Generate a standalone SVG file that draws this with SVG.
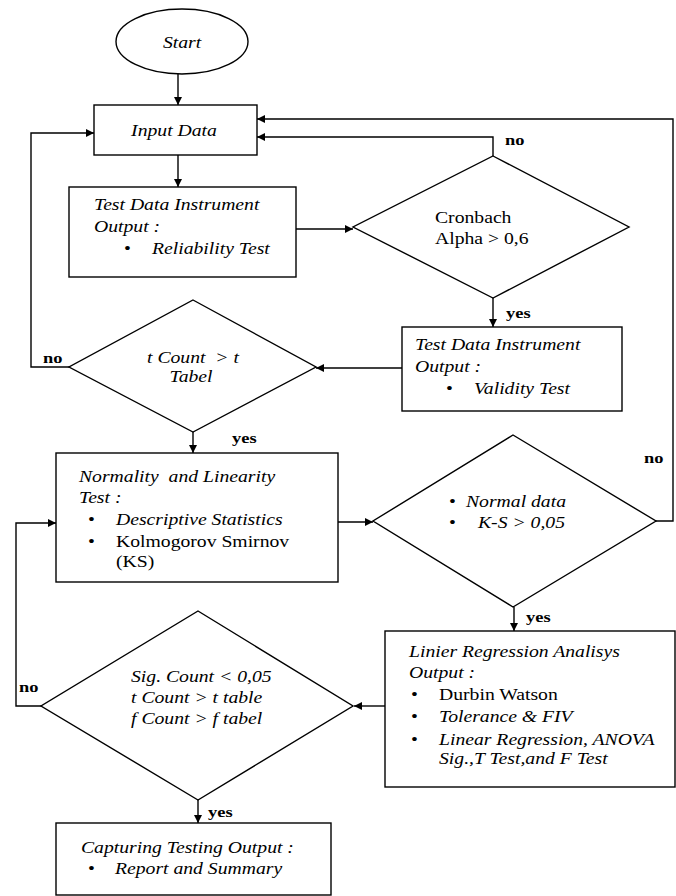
<svg xmlns="http://www.w3.org/2000/svg" width="676" height="896" viewBox="0 0 676 896" font-family="'Liberation Serif', 'DejaVu Serif', serif" font-size="16">
<style>
.s{fill:#fff;stroke:#000;stroke-width:1.4}
.c{fill:none;stroke:#000;stroke-width:1.4}
.i{font-style:italic}
.b{font-weight:bold;font-size:15px}
.m{text-anchor:middle}
</style>
<defs>
<marker id="ah" viewBox="0 0 10 10" refX="10" refY="5" markerWidth="9" markerHeight="8" markerUnits="userSpaceOnUse" orient="auto">
<path d="M0,0 L10,5 L0,10 z" fill="#000"/>
</marker>
</defs>
<rect width="676" height="896" fill="#fff"/>
<g id="connectors">
<path class="c" d="M178,74 V105" marker-end="url(#ah)"/>
<path class="c" d="M178,155 V187" marker-end="url(#ah)"/>
<path class="c" d="M296,229 H353" marker-end="url(#ah)"/>
<path class="c" d="M493,156 V137 H257" marker-end="url(#ah)"/>
<path class="c" d="M493,298 V327" marker-end="url(#ah)"/>
<path class="c" d="M402,368 H316" marker-end="url(#ah)"/>
<path class="c" d="M69,367 H31 V133 H94" marker-end="url(#ah)"/>
<path class="c" d="M193,432 V453" marker-end="url(#ah)"/>
<path class="c" d="M338,522 H373" marker-end="url(#ah)"/>
<path class="c" d="M656,521 H673 V119 H257" marker-end="url(#ah)"/>
<path class="c" d="M514,607 V631" marker-end="url(#ah)"/>
<path class="c" d="M385,706 H354" marker-end="url(#ah)"/>
<path class="c" d="M41,706 H16 V523 H56" marker-end="url(#ah)"/>
<path class="c" d="M198,800 V823" marker-end="url(#ah)"/>
<text class="b" transform="translate(505 145) scale(1.23 1)">no</text>
<text class="b" transform="translate(506 318) scale(1.23 1)">yes</text>
<text class="b" transform="translate(43 363) scale(1.23 1)">no</text>
<text class="b" transform="translate(232 443) scale(1.23 1)">yes</text>
<text class="b" transform="translate(644 463) scale(1.23 1)">no</text>
<text class="b" transform="translate(526 622) scale(1.23 1)">yes</text>
<text class="b" transform="translate(19 692) scale(1.23 1)">no</text>
<text class="b" transform="translate(208 817) scale(1.23 1)">yes</text>
</g>
<g id="start">
<ellipse class="s" cx="182" cy="41.5" rx="66" ry="32.5"/>
<text class="i m" transform="translate(182 48) scale(1.23 1)">Start</text>
</g>
<g id="input">
<rect class="s" x="94" y="105" width="163" height="50"/>
<text class="i m" transform="translate(174 136) scale(1.23 1)">Input Data</text>
</g>
<g id="reliability">
<rect class="s" x="69" y="187" width="227" height="90"/>
<text class="i" transform="translate(94 210) scale(1.23 1)">Test Data Instrument</text>
<text class="i" transform="translate(94 232) scale(1.23 1)">Output :</text>
<text transform="translate(124 254) scale(1.23 1)">•</text>
<text class="i" transform="translate(152 254) scale(1.23 1)">Reliability Test</text>
</g>
<g id="cronbach">
<polygon class="s" points="493,156 629,227 493,298 353,227"/>
<text transform="translate(435 223) scale(1.23 1)">Cronbach</text>
<text transform="translate(435 244) scale(1.23 1)">Alpha &gt; 0,6</text>
</g>
<g id="validity">
<rect class="s" x="402" y="327" width="220" height="84"/>
<text class="i" transform="translate(415 350) scale(1.23 1)">Test Data Instrument</text>
<text class="i" transform="translate(415 372) scale(1.23 1)">Output :</text>
<text transform="translate(446 394) scale(1.23 1)">•</text>
<text class="i" transform="translate(474 394) scale(1.23 1)">Validity Test</text>
</g>
<g id="tcount">
<polygon class="s" points="193,300 316,367 193,432 69,367"/>
<text class="i m" transform="translate(193 363) scale(1.23 1)" xml:space="preserve">t Count  &gt; t</text>
<text class="i m" transform="translate(191 382) scale(1.23 1)">Tabel</text>
</g>
<g id="normality">
<rect class="s" x="56" y="453" width="282" height="129"/>
<text class="i" transform="translate(79 482) scale(1.23 1)" xml:space="preserve">Normality  and Linearity</text>
<text class="i" transform="translate(79 503) scale(1.23 1)">Test :</text>
<text transform="translate(88 525) scale(1.23 1)">•</text>
<text class="i" transform="translate(116 525) scale(1.23 1)">Descriptive Statistics</text>
<text transform="translate(88 547) scale(1.23 1)">•</text>
<text transform="translate(116 547) scale(1.23 1)">Kolmogorov Smirnov</text>
<text transform="translate(116 567) scale(1.23 1)">(KS)</text>
</g>
<g id="normal">
<polygon class="s" points="513,435 656,521 513,607 373,521"/>
<text transform="translate(449 507) scale(1.23 1)">•</text>
<text class="i" transform="translate(466 507) scale(1.23 1)">Normal data</text>
<text transform="translate(449 528) scale(1.23 1)">•</text>
<text class="i" transform="translate(478 528) scale(1.23 1)">K-S &gt; 0,05</text>
</g>
<g id="regression">
<rect class="s" x="385" y="631" width="290" height="156"/>
<text class="i" transform="translate(409 657) scale(1.23 1)">Linier Regression Analisys</text>
<text class="i" transform="translate(409 678) scale(1.23 1)">Output :</text>
<text transform="translate(411 700) scale(1.23 1)">•</text>
<text transform="translate(439 700) scale(1.23 1)">Durbin Watson</text>
<text transform="translate(411 722) scale(1.23 1)">•</text>
<text class="i" transform="translate(439 722) scale(1.23 1)">Tolerance &amp; FIV</text>
<text transform="translate(411 745) scale(1.23 1)">•</text>
<text class="i" transform="translate(439 745) scale(1.23 1)">Linear Regression, ANOVA</text>
<text class="i" transform="translate(439 764) scale(1.23 1)">Sig.,T Test,and F Test</text>
</g>
<g id="sig">
<polygon class="s" points="198,611 353,706 198,800 41,706"/>
<text class="i" transform="translate(131 682) scale(1.23 1)">Sig. Count &lt; 0,05</text>
<text class="i" transform="translate(131 703) scale(1.23 1)">t Count &gt; t table</text>
<text class="i" transform="translate(131 724) scale(1.23 1)">f Count &gt; f tabel</text>
</g>
<g id="capturing">
<rect class="s" x="56" y="823" width="275" height="72"/>
<text class="i" transform="translate(81 853) scale(1.23 1)">Capturing Testing Output :</text>
<text transform="translate(88 874) scale(1.23 1)">•</text>
<text class="i" transform="translate(115 874) scale(1.23 1)">Report and Summary</text>
</g>
</svg>
